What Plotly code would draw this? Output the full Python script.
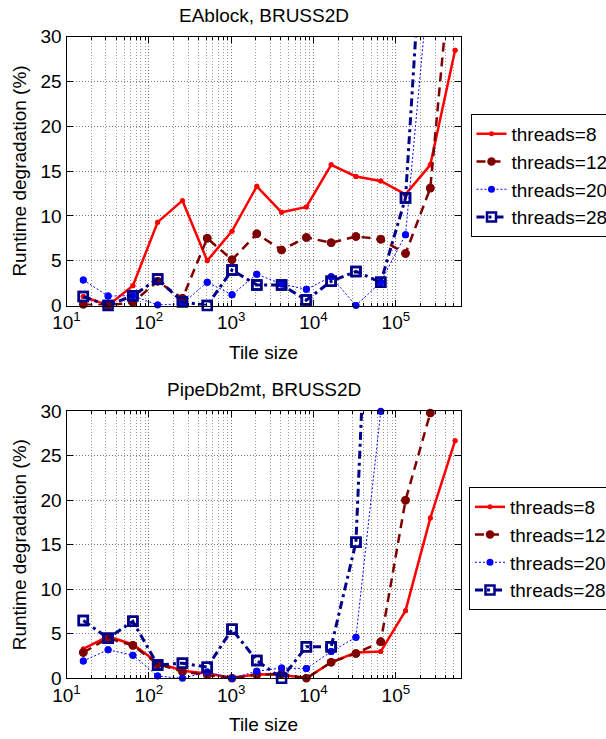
import plotly.graph_objects as go
import math

# ---------------- data ----------------
tile_sizes = [16, 32, 64, 128, 256, 512, 1024, 2048, 4096, 8192,
              16384, 32768, 65536, 131072, 262144, 524288]

series_names = ["threads=8", "threads=12", "threads=20", "threads=28"]

# EAblock, BRUSS2D
ea_t8 = [1.0, 0.0, 2.2, 9.3, 11.7, 5.0, 8.3, 13.3, 10.4, 11.0, 15.7, 14.4, 13.9, 12.4, 15.7, 28.5]
ea_t12 = [0.1, 0.0, 0.35, 2.7, 0.8, 7.5, 5.1, 8.0, 6.2, 7.6, 7.0, 7.7, 7.4, 5.8, 13.1, 43.0]
ea_t20 = [2.85, 1.05, 1.1, 0.05, 0.2, 2.6, 1.2, 3.5, 2.4, 1.8, 3.2, 0.0, 2.6, 7.9, 38.0, 60.0]
ea_t28 = [1.0, 0.0, 1.1, 2.95, 0.4, 0.0, 3.95, 2.3, 2.3, 0.6, 2.7, 3.8, 2.6, 12.0, 56.0, 90.0]

# PipeDb2mt, BRUSS2D
pd_t8 = [3.3, 4.7, 3.8, 1.75, 0.85, 0.55, 0.05, 0.45, 0.4, 0.0, 1.8, 2.9, 3.0, 7.6, 18.0, 26.7]
pd_t12 = [2.9, 4.5, 3.7, 1.6, 0.75, 0.4, 0.0, 0.4, 0.5, 0.0, 1.8, 2.8, 4.1, 20.0, 29.8, 55.0]
pd_t20 = [1.95, 3.2, 2.6, 0.25, 0.0, 0.7, 0.0, 0.8, 1.15, 1.1, 3.0, 4.6, 30.0, 70.0, 90.0, 110.0]
pd_t28 = [6.5, 4.5, 6.4, 1.5, 1.7, 1.25, 5.5, 2.0, 0.0, 3.55, 3.55, 15.3, 80.0, 120.0, 150.0, 180.0]

titles = ["EAblock, BRUSS2D", "PipeDb2mt, BRUSS2D"]
x_title = "Tile size"
y_title = "Runtime degradation (%)"

x_tick_vals = [10, 100, 1000, 10000, 100000]
x_tick_text = ["10<sup>1</sup>", "10<sup>2</sup>", "10<sup>3</sup>", "10<sup>4</sup>", "10<sup>5</sup>"]
y_tick_vals = [0, 5, 10, 15, 20, 25, 30]

# ---------------- styling ----------------
W, H = 606, 739
FONT = "Liberation Sans, Arial, Helvetica, sans-serif"
FS = 19

styles = [
    dict(color="#ff0000", dash="solid", width=2.5, symbol="circle", msize=5, mline=0),
    dict(color="#800000", dash="9px,6px", width=2.5, symbol="circle", msize=8.5, mline=0),
    dict(color="#0000ff", dash="2px,2px", width=1, symbol="circle", msize=7, mline=0),
    dict(color="#000088", dash="8px,4px,3px,4px", width=3, symbol="square-open", msize=9, mline=2.5),
]

X_LEFT, X_RIGHT = 66.5, 460.5
panels = [
    dict(top=36.7, bottom=305.5, data=[ea_t8, ea_t12, ea_t20, ea_t28], legend_top=114.0, legend_left=470.5),
    dict(top=411.3, bottom=678.3, data=[pd_t8, pd_t12, pd_t20, pd_t28], legend_top=487.0, legend_left=469.0),
]

minor_vals = [m * 10 ** k for k in range(1, 6) for m in range(2, 10) if m * 10 ** k < 6.1e5]

fig = go.Figure()

for pi, p in enumerate(panels):
    xa = "x" if pi == 0 else "x2"
    ya = "y" if pi == 0 else "y2"
    leg = "legend" if pi == 0 else "legend2"
    for si, (name, vals) in enumerate(zip(series_names, p["data"])):
        st = styles[si]
        marker = dict(symbol=st["symbol"], size=st["msize"], color=st["color"])
        if st["mline"]:
            marker["line"] = dict(width=st["mline"], color=st["color"])
        fig.add_trace(go.Scatter(
            x=tile_sizes, y=vals, name=name, mode="lines+markers",
            line=dict(color=st["color"], width=st["width"], dash=st["dash"]),
            marker=marker, xaxis=xa, yaxis=ya, legend=leg, showlegend=True,
        ))
        # in-range markers drawn unclipped (as MATLAB does at the axis edge)
        xi = [x for x, v in zip(tile_sizes, vals) if v <= 30.05]
        yi = [v for v in vals if v <= 30.05]
        fig.add_trace(go.Scatter(
            x=xi, y=yi, mode="markers", marker=marker, cliponaxis=False,
            xaxis=xa, yaxis=ya, showlegend=False, hoverinfo="skip",
        ))

xdom = [X_LEFT / W, X_RIGHT / W]
axis_common = dict(
    showline=True, linecolor="black", linewidth=1, mirror="ticks",
    ticks="inside", ticklen=6, tickcolor="black", tickwidth=1,
    tickfont=dict(family=FONT, size=FS, color="black"),
    showgrid=True, gridcolor="#7a7a7a", gridwidth=1, griddash="1px,2px",
    zeroline=False,
)

layout_axes = {}
for pi, p in enumerate(panels):
    sx = "xaxis" if pi == 0 else "xaxis2"
    sy = "yaxis" if pi == 0 else "yaxis2"
    ydom = [(H - p["bottom"]) / H, (H - p["top"]) / H]
    layout_axes[sx] = dict(
        axis_common, type="log", domain=xdom, range=[1, math.log10(6.1e5)],
        anchor="y" if pi == 0 else "y2",
        tickmode="array", tickvals=x_tick_vals, ticktext=x_tick_text,
        minor=dict(tickmode="array", tickvals=minor_vals, ticks="inside", ticklen=3,
                   tickcolor="black", showgrid=True, gridcolor="#9a9a9a",
                   griddash="1px,2px", gridwidth=1),
    )
    layout_axes[sy] = dict(
        axis_common, domain=ydom, range=[0, 30],
        anchor="x" if pi == 0 else "x2",
        tickmode="array", tickvals=y_tick_vals,
    )

annotations = []
for pi, p in enumerate(panels):
    cx = (X_LEFT + X_RIGHT) / 2 / W
    annotations.append(dict(
        text=titles[pi], x=cx, y=(H - (p["top"] - 21.5)) / H, xref="paper", yref="paper",
        showarrow=False, xanchor="center", yanchor="middle",
        font=dict(family=FONT, size=FS, color="black"),
    ))
    annotations.append(dict(
        text=x_title, x=cx, y=(H - (p["bottom"] + 46.5)) / H, xref="paper", yref="paper",
        showarrow=False, xanchor="center", yanchor="middle",
        font=dict(family=FONT, size=FS, color="black"),
    ))
    annotations.append(dict(
        text=y_title, x=19.5 / W, y=(H - (p["top"] + p["bottom"]) / 2) / H,
        xref="paper", yref="paper", textangle=-90,
        showarrow=False, xanchor="center", yanchor="middle",
        font=dict(family=FONT, size=FS, color="black"),
    ))

legend_common = dict(
    xanchor="left", yanchor="top", bgcolor="white", bordercolor="black", borderwidth=1,
    font=dict(family=FONT, size=19, color="black"), tracegroupgap=0, itemwidth=30,
)

fig.update_layout(
    width=W, height=H, margin=dict(l=0, r=0, t=0, b=0, pad=0, autoexpand=False),
    paper_bgcolor="white", plot_bgcolor="white",
    font=dict(family=FONT, size=FS, color="black"),
    annotations=annotations,
    legend=dict(legend_common, x=panels[0]["legend_left"] / W, y=(H - panels[0]["legend_top"]) / H),
    legend2=dict(legend_common, x=panels[1]["legend_left"] / W, y=(H - panels[1]["legend_top"]) / H),
    **layout_axes,
)

fig.write_html("out.html")
